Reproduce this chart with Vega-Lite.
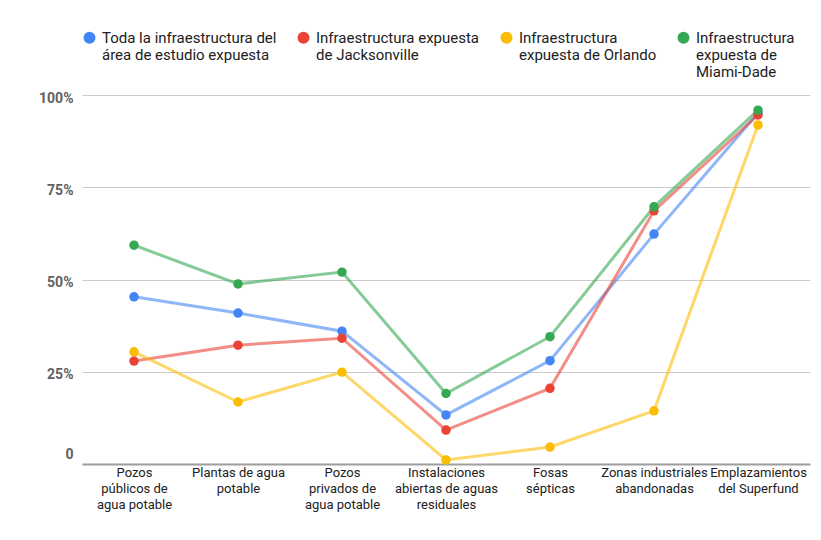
{
  "$schema": "https://vega.github.io/schema/vega-lite/v6.json",
  "autosize": {"type": "none"},
  "width": 728,
  "height": 369,
  "padding": {"left": 82, "top": 95, "right": 11, "bottom": 76},
  "background": "white",
  "config": {"font": "Roboto", "view": {"stroke": null}},
  "data": {
    "values": [
      {"categoria": "Pozos|públicos de|agua potable", "serie": "Toda la infraestructura del|área de estudio expuesta", "valor": 45.3},
      {"categoria": "Plantas de agua|potable", "serie": "Toda la infraestructura del|área de estudio expuesta", "valor": 40.9},
      {"categoria": "Pozos|privados de|agua potable", "serie": "Toda la infraestructura del|área de estudio expuesta", "valor": 36.0},
      {"categoria": "Instalaciones|abiertas de aguas|residuales", "serie": "Toda la infraestructura del|área de estudio expuesta", "valor": 13.3},
      {"categoria": "Fosas|sépticas", "serie": "Toda la infraestructura del|área de estudio expuesta", "valor": 28.0},
      {"categoria": "Zonas industriales|abandonadas", "serie": "Toda la infraestructura del|área de estudio expuesta", "valor": 62.3},
      {"categoria": "Emplazamientos|del Superfund", "serie": "Toda la infraestructura del|área de estudio expuesta", "valor": 95.1},
      {"categoria": "Pozos|públicos de|agua potable", "serie": "Infraestructura expuesta|de Jacksonville", "valor": 27.9},
      {"categoria": "Plantas de agua|potable", "serie": "Infraestructura expuesta|de Jacksonville", "valor": 32.2},
      {"categoria": "Pozos|privados de|agua potable", "serie": "Infraestructura expuesta|de Jacksonville", "valor": 34.1},
      {"categoria": "Instalaciones|abiertas de aguas|residuales", "serie": "Infraestructura expuesta|de Jacksonville", "valor": 9.2},
      {"categoria": "Fosas|sépticas", "serie": "Infraestructura expuesta|de Jacksonville", "valor": 20.5},
      {"categoria": "Zonas industriales|abandonadas", "serie": "Infraestructura expuesta|de Jacksonville", "valor": 68.6},
      {"categoria": "Emplazamientos|del Superfund", "serie": "Infraestructura expuesta|de Jacksonville", "valor": 94.6},
      {"categoria": "Pozos|públicos de|agua potable", "serie": "Infraestructura|expuesta de Orlando", "valor": 30.4},
      {"categoria": "Plantas de agua|potable", "serie": "Infraestructura|expuesta de Orlando", "valor": 16.8},
      {"categoria": "Pozos|privados de|agua potable", "serie": "Infraestructura|expuesta de Orlando", "valor": 24.9},
      {"categoria": "Instalaciones|abiertas de aguas|residuales", "serie": "Infraestructura|expuesta de Orlando", "valor": 1.1},
      {"categoria": "Fosas|sépticas", "serie": "Infraestructura|expuesta de Orlando", "valor": 4.6},
      {"categoria": "Zonas industriales|abandonadas", "serie": "Infraestructura|expuesta de Orlando", "valor": 14.4},
      {"categoria": "Emplazamientos|del Superfund", "serie": "Infraestructura|expuesta de Orlando", "valor": 91.9},
      {"categoria": "Pozos|públicos de|agua potable", "serie": "Infraestructura|expuesta de|Miami-Dade", "valor": 59.3},
      {"categoria": "Plantas de agua|potable", "serie": "Infraestructura|expuesta de|Miami-Dade", "valor": 48.8},
      {"categoria": "Pozos|privados de|agua potable", "serie": "Infraestructura|expuesta de|Miami-Dade", "valor": 52.0},
      {"categoria": "Instalaciones|abiertas de aguas|residuales", "serie": "Infraestructura|expuesta de|Miami-Dade", "valor": 19.1},
      {"categoria": "Fosas|sépticas", "serie": "Infraestructura|expuesta de|Miami-Dade", "valor": 34.5},
      {"categoria": "Zonas industriales|abandonadas", "serie": "Infraestructura|expuesta de|Miami-Dade", "valor": 69.7},
      {"categoria": "Emplazamientos|del Superfund", "serie": "Infraestructura|expuesta de|Miami-Dade", "valor": 95.9}
    ]
  },
  "encoding": {
    "x": {
      "field": "categoria",
      "type": "nominal",
      "sort": null,
      "scale": {"type": "point", "padding": 0.5},
      "axis": {
        "title": null,
        "labelExpr": "split(datum.label, '|')",
        "labelAngle": 0,
        "labelFontSize": 13,
        "labelColor": "#212121",
        "labelLineHeight": 16,
        "labelPadding": 2,
        "labelBaseline": "top",
        "labelLimit": 200,
        "ticks": false,
        "domainColor": "#9e9e9e",
        "domainWidth": 2,
        "grid": false
      }
    },
    "y": {
      "field": "valor",
      "type": "quantitative",
      "scale": {"domain": [0, 100], "nice": false},
      "axis": {
        "title": null,
        "values": [0, 25, 50, 75, 100],
        "labelExpr": "datum.value == 0 ? '0' : datum.value + '%'",
        "domain": false,
        "ticks": false,
        "gridColor": "#cccccc",
        "gridWidth": 1,
        "labelFontSize": 14,
        "labelFontWeight": "bold",
        "labelColor": "#616161",
        "labelPadding": 9,
        "labelOffset": {"condition": {"test": "datum.value == 0", "value": -10}, "value": 3}
      }
    },
    "color": {
      "field": "serie",
      "type": "nominal",
      "scale": {
        "domain": [
          "Toda la infraestructura del|área de estudio expuesta",
          "Infraestructura expuesta|de Jacksonville",
          "Infraestructura|expuesta de Orlando",
          "Infraestructura|expuesta de|Miami-Dade"
        ],
        "range": ["#4285F4", "#EA4335", "#FBBC04", "#34A853"]
      },
      "legend": {
        "orient": "none",
        "legendX": 0,
        "legendY": -65,
        "direction": "horizontal",
        "columns": 4,
        "title": null,
        "labelExpr": "length(split(datum.label, '|')) < 3 ? split(datum.label + '| ', '|') : split(datum.label, '|')",
        "labelFontSize": 15,
        "labelColor": "#212121",
        "labelLineHeight": 18,
        "labelBaseline": "top",
        "labelLimit": 250,
        "labelOffset": 5,
        "columnPadding": 19,
        "symbolType": "circle",
        "symbolSize": 144,
        "symbolOpacity": 1,
        "symbolStrokeWidth": 0,
        "encode": {"labels": {"update": {"dy": {"value": -7}}}}
      }
    }
  },
  "layer": [
    {"mark": {"type": "line", "strokeWidth": 3, "opacity": 0.6}},
    {"mark": {"type": "point", "filled": true, "size": 90, "opacity": 1}}
  ]
}
